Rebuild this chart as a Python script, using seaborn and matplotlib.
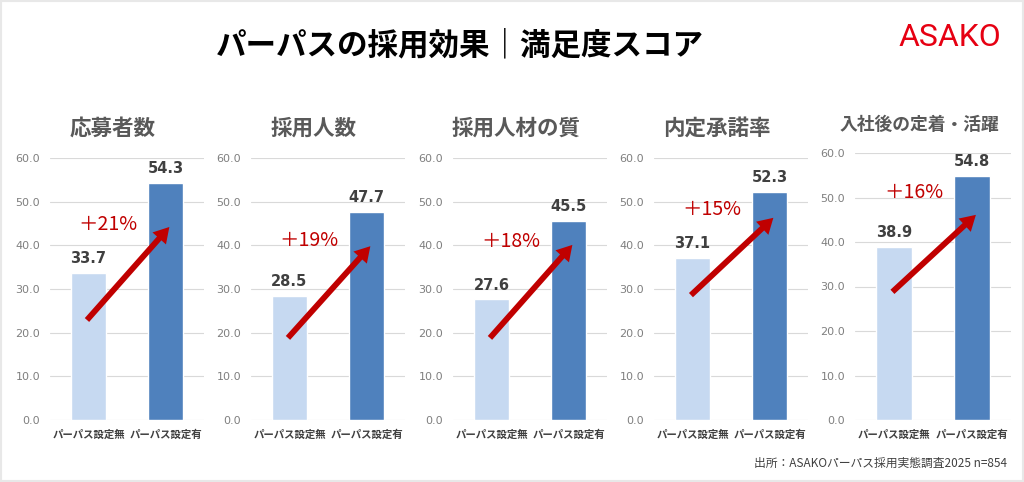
import pandas as pd
import numpy as np
import matplotlib.pyplot as plt
import seaborn as sns
from matplotlib.patches import Rectangle

# Data
panel_titles = ['応募者数', '採用人数', '採用人材の質', '内定承諾率', '入社後の定着・活躍']
categories = ['パーパス設定無', 'パーパス設定有']
score_without = [33.7, 28.5, 27.6, 37.1, 38.9]
score_with = [54.3, 47.7, 45.5, 52.3, 54.8]
lift_labels = ['＋21%', '＋19%', '＋18%', '＋15%', '＋16%']
y_ticks = [0, 10, 20, 30, 40, 50, 60]

# Layout (pixels of the 1024x482 canvas) and annotation offsets
W, H = 1024, 482
axes_left_px = [50, 251, 453, 654, 855]
axes_width_px = [154, 154, 154, 154, 156]
axes_top_px = [158, 158, 158, 158, 153]
axes_bottom_px = 420
# arrow start/end drawn relative to the bar tops, label above arrow tip
arrow_start_off = [-10.8, -9.7, -8.8, -8.5, -10.1]
arrow_end_off = [-10.1, -7.9, -5.4, -6.0, -8.7]
lift_text_off = [0.5, 1.4, 0.7, 1.8, 5.1]

light_blue = '#C6D9F1'
dark_blue = '#4F81BD'
arrow_red = '#C00000'

sns.set_theme(style='white')
plt.rcParams['font.family'] = ['Noto Sans CJK JP', 'DejaVu Sans']

fig = plt.figure(figsize=(W / 100, H / 100), dpi=100)
fig.patch.set_facecolor('white')
fig.patches.append(Rectangle((0, 0), 1, 1, transform=fig.transFigure, fill=False,
                             edgecolor='#E8E8E8', lw=3))

fig.text(460 / W, 1 - 45 / H, 'パーパスの採用効果｜満足度スコア', ha='center', va='center',
         fontsize=22, fontweight='bold', color='black')
fig.text(950 / W, 1 - 37 / H, 'ASAKO', ha='center', va='center', fontsize=23,
         color='#E60012', family=['Roboto', 'DejaVu Sans'])
fig.text(1007 / W, 1 - 463 / H, '出所：ASAKOパーパス採用実態調査2025 n=854', ha='right',
         va='center', fontsize=8.5, color='#404040')

for i in range(5):
    l = axes_left_px[i]
    w = axes_width_px[i]
    top = axes_top_px[i]
    ax = fig.add_axes([l / W, 1 - axes_bottom_px / H, w / W, (axes_bottom_px - top) / H])

    df = pd.DataFrame({'group': categories, 'score': [score_without[i], score_with[i]]})
    sns.barplot(data=df, x='group', y='score', hue='group', palette=[light_blue, dark_blue],
                width=0.455, saturation=1, legend=False, ax=ax)

    ax.set_xlim(-0.5, 1.5)
    ax.set_ylim(0, 60)
    ax.set_yticks(y_ticks)
    ax.yaxis.set_major_formatter('{x:.1f}')
    ax.grid(axis='y', color='#D9D9D9', lw=0.8)
    ax.set_axisbelow(True)
    sns.despine(ax=ax, left=True, bottom=True)
    ax.set_xlabel('')
    ax.set_ylabel('')
    ax.tick_params(axis='y', length=0, pad=7, labelsize=8, labelcolor='#7F7F7F')
    ax.tick_params(axis='x', length=0, pad=7, labelsize=7.5, labelcolor='#404040')
    for t in ax.get_yticklabels():
        t.set_family('DejaVu Sans')
    for t in ax.get_xticklabels():
        t.set_fontweight('bold')

    for j, v in enumerate([score_without[i], score_with[i]]):
        ax.annotate(f'{v:.1f}', (j, v), xytext=(0, 5), textcoords='offset points',
                    ha='center', va='bottom', fontsize=10.5, fontweight='bold',
                    color='#404040', family='DejaVu Sans')

    y0 = score_without[i] + arrow_start_off[i]
    y1 = score_with[i] + arrow_end_off[i]
    ax.annotate('', xy=(1.05, y1), xytext=(-0.02, y0),
                arrowprops=dict(facecolor=arrow_red, edgecolor='none', width=4.2,
                                headwidth=13, headlength=11, shrink=0))
    ax.text(0.25, y1 + lift_text_off[i], lift_labels[i], ha='center', va='center',
            fontsize=14, color=arrow_red)

    title_x = ((l - 28) + (l + w)) / 2
    title_y = 125 if i == 4 else 128
    fig.text(title_x / W, 1 - title_y / H, panel_titles[i], ha='center', va='center',
             fontsize=12.8 if i == 4 else 15.5, fontweight='bold', color='#595959')

fig.savefig('out.png', dpi=100, facecolor='white')
